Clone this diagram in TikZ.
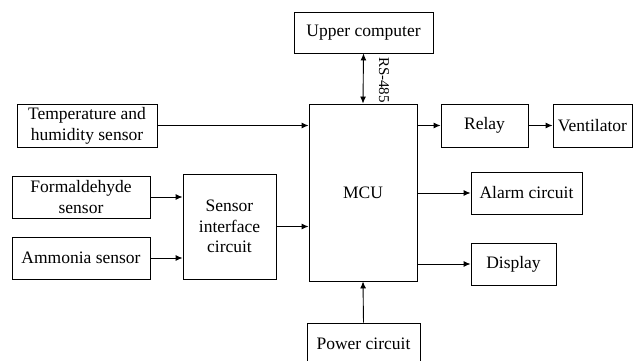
\documentclass[tikz,border=0pt]{standalone}
\usepackage{fontspec}
\setmainfont{Liberation Serif}
\usetikzlibrary{arrows.meta}
\begin{document}
\begin{tikzpicture}[x=1pt,y=-1pt,
  box/.style={draw, line width=0.9pt, inner sep=0pt, align=center, font=\fontsize{17.5}{21}\selectfont},
  conn/.style={line width=0.9pt, -{Latex[length=7pt,width=6pt]}},
  bconn/.style={line width=0.9pt, {Latex[length=7pt,width=6pt]}-{Latex[length=7pt,width=6pt]}}]
\useasboundingbox (0,0) rectangle (633,361);
\clip (0,0) rectangle (633,361);
\node[box, minimum width=139pt, minimum height=41pt] (up) at (363.5,32.5) {Upper computer};
\node[box, minimum width=140pt, minimum height=43pt] (temp) at (87,125.5) {Temperature and\\humidity sensor};
\node[box, minimum width=138pt, minimum height=42pt] (form) at (81,197) {Formaldehyde\\sensor};
\node[box, minimum width=138pt, minimum height=42pt] (amm) at (81,258) {Ammonia sensor};
\node[box, minimum width=93pt, minimum height=105pt, font=\fontsize{17.5}{20.5}\selectfont] (sic) at (229.5,226.5) {Sensor\\interface\\circuit};
\node[box, minimum width=108pt, minimum height=177pt] (mcu) at (363,192.5) {MCU};
\node[box, minimum width=87pt, minimum height=43pt] (relay) at (484.5,125.5) {Relay};
\node[box, minimum width=79pt, minimum height=43pt] (vent) at (592.5,125.5) {Ventilator};
\node[box, minimum width=111pt, minimum height=42pt] (alarm) at (526.5,193) {Alarm circuit};
\node[box, minimum width=85pt, minimum height=42pt] (disp) at (513.5,264) {Display};
\node[box, minimum width=113pt, minimum height=42pt] (power) at (363.5,344) {Power circuit};
\node[rotate=-90, inner sep=0pt, font=\fontsize{15}{18}\selectfont] (lbl) at (384,80) {RS-485};

\draw[bconn] (up.south) -- (mcu.north);
\draw[conn] (temp.east) -- (temp.east -| mcu.west);
\draw[conn] (form.east) -- (form.east -| sic.west);
\draw[conn] (amm.east) -- (amm.east -| sic.west);
\draw[conn] (sic.east) -- (sic.east -| mcu.west);
\draw[conn] (relay.west -| mcu.east) -- (relay.west);
\draw[conn] (relay.east) -- (vent.west);
\draw[conn] (alarm.west -| mcu.east) -- (alarm.west);
\draw[conn] (disp.west -| mcu.east) -- (disp.west);
\draw[conn] (power.north) -- (mcu.south);
\end{tikzpicture}
\end{document}
